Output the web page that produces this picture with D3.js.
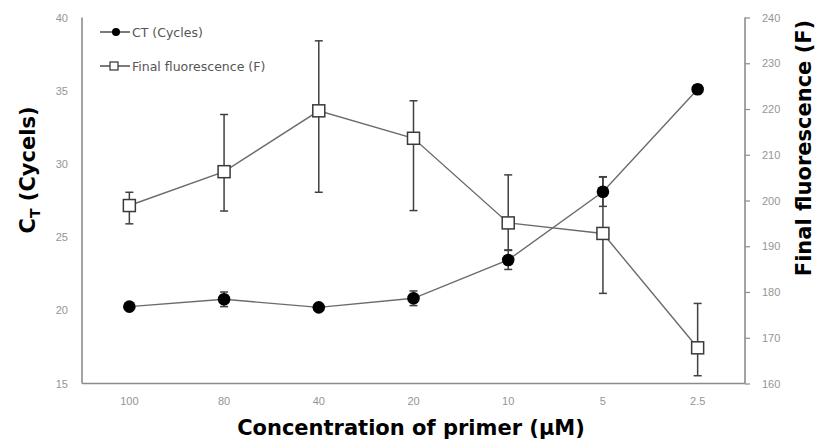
<!DOCTYPE html>
<html>
<head>
<meta charset="utf-8">
<script src="https://cdn.jsdelivr.net/npm/d3@7"></script>
<style>
  body { margin: 0; background: #fff; }
  svg { display: block; font-family: "Noto Sans", "Open Sans", sans-serif; }
</style>
</head>
<body>
<svg id="chart" width="819" height="442"></svg>
<script>
const categories = ["100", "80", "40", "20", "10", "5", "2.5"];
const ctValues   = [20.25, 20.75, 20.2, 20.82, 23.44, 28.1, 35.1];
const ctErr      = [0.2, 0.5, 0.2, 0.5, 0.65, 1.0, 0.3];
const fValues    = [198.9, 206.3, 219.6, 213.6, 195.1, 192.8, 167.8];
const fErrPlus   = [2.9, 12.5, 15.3, 8.2, 10.5, 12.4, 9.7];
const fErrMinus  = [4.0, 8.6, 17.8, 15.8, 5.9, 13.1, 6.1];
const leftTicks  = [15, 20, 25, 30, 35, 40];
const rightTicks = [160, 170, 180, 190, 200, 210, 220, 230, 240];

const svg = d3.select("#chart");
const L = 82, R = 745, T = 17.5, B = 383.5;

const x = d3.scaleBand().domain(categories).range([L, R]);
const yL = d3.scaleLinear().domain([15, 40]).range([B, T]);
const yR = d3.scaleLinear().domain([160, 240]).range([B, T]);
const cx = d => x(d) + x.bandwidth() / 2;

const axisColor = "#8c8c8c";
const labelColor = "#959595";
const lineColor = "#6b6b6b";
const errColor = "#404040";

// Left axis
const gL = svg.append("g").attr("transform", `translate(${L},0)`)
  .call(d3.axisLeft(yL).tickValues(leftTicks).tickSize(0).tickPadding(14));
// Right axis
const gR = svg.append("g").attr("transform", `translate(${R},0)`)
  .call(d3.axisRight(yR).tickValues(rightTicks).tickSize(5).tickPadding(12));
// Bottom axis
const gB = svg.append("g").attr("transform", `translate(0,${B})`)
  .call(d3.axisBottom(x).tickSize(0).tickPadding(14));

[gL, gR, gB].forEach(g => {
  g.select(".domain").attr("stroke", axisColor).attr("stroke-width", 1.6);
  g.selectAll(".tick line").attr("stroke", axisColor).attr("stroke-width", 1.2);
  g.selectAll(".tick text").attr("fill", labelColor).attr("font-size", 11);
});
gR.select(".domain").attr("d", `M0,${T}V${B}`);
gL.select(".domain").attr("d", `M0,${T}V${B}`);
gB.select(".domain").attr("d", `M${L},0H${R}`);

// Error bars F
const capW = 4;
const fErr = svg.append("g");
categories.forEach((c, i) => {
  const xx = cx(c);
  const y1 = yR(fValues[i] + fErrPlus[i]), y2 = yR(fValues[i] - fErrMinus[i]);
  fErr.append("line").attr("x1", xx).attr("x2", xx).attr("y1", y1).attr("y2", y2)
    .attr("stroke", errColor).attr("stroke-width", 1.5);
  [y1, y2].forEach(yy => fErr.append("line").attr("x1", xx - capW).attr("x2", xx + capW)
    .attr("y1", yy).attr("y2", yy).attr("stroke", errColor).attr("stroke-width", 1.5));
});
// Error bars CT
const cErr = svg.append("g");
categories.forEach((c, i) => {
  const xx = cx(c);
  const y1 = yL(ctValues[i] + ctErr[i]), y2 = yL(ctValues[i] - ctErr[i]);
  cErr.append("line").attr("x1", xx).attr("x2", xx).attr("y1", y1).attr("y2", y2)
    .attr("stroke", errColor).attr("stroke-width", 1.5);
  [y1, y2].forEach(yy => cErr.append("line").attr("x1", xx - capW).attr("x2", xx + capW)
    .attr("y1", yy).attr("y2", yy).attr("stroke", errColor).attr("stroke-width", 1.5));
});

// Lines
const lineF = d3.line().x((d, i) => cx(categories[i])).y(d => yR(d));
const lineC = d3.line().x((d, i) => cx(categories[i])).y(d => yL(d));
svg.append("path").attr("d", lineF(fValues)).attr("fill", "none")
  .attr("stroke", lineColor).attr("stroke-width", 1.4);
svg.append("path").attr("d", lineC(ctValues)).attr("fill", "none")
  .attr("stroke", lineColor).attr("stroke-width", 1.4);

// Markers
const sq = 12;
svg.append("g").selectAll("rect").data(fValues).join("rect")
  .attr("x", (d, i) => cx(categories[i]) - sq / 2)
  .attr("y", d => yR(d) - sq / 2)
  .attr("width", sq).attr("height", sq)
  .attr("fill", "#fff").attr("stroke", "#3a3a3a").attr("stroke-width", 1.5);
svg.append("g").selectAll("circle").data(ctValues).join("circle")
  .attr("cx", (d, i) => cx(categories[i]))
  .attr("cy", d => yL(d))
  .attr("r", 6.3).attr("fill", "#000");

// Legend
const lg = svg.append("g").attr("font-family", "'DejaVu Sans', sans-serif");
lg.append("line").attr("x1", 100).attr("x2", 130).attr("y1", 32).attr("y2", 32)
  .attr("stroke", "#333").attr("stroke-width", 1.3);
lg.append("circle").attr("cx", 116).attr("cy", 32).attr("r", 4).attr("fill", "#000");
lg.append("text").attr("x", 132).attr("y", 36.5).attr("font-size", 12.5)
  .attr("fill", "#555").text("CT (Cycles)");
lg.append("line").attr("x1", 100).attr("x2", 130).attr("y1", 66).attr("y2", 66)
  .attr("stroke", "#333").attr("stroke-width", 1.3);
lg.append("rect").attr("x", 110).attr("y", 62).attr("width", 8).attr("height", 8)
  .attr("fill", "#fff").attr("stroke", "#333").attr("stroke-width", 1.2);
lg.append("text").attr("x", 132).attr("y", 70.5).attr("font-size", 12.5)
  .attr("fill", "#555").text("Final fluorescence (F)");

// Axis titles
const titleFont = "'DejaVu Sans', sans-serif";
const lt = svg.append("text")
  .attr("transform", "translate(35,170) rotate(-90)")
  .attr("text-anchor", "middle").attr("font-size", 21).attr("font-weight", "bold")
  .attr("font-family", titleFont).attr("fill", "#000");
lt.append("tspan").text("C");
lt.append("tspan").attr("font-size", 14).attr("dy", 5).text("T");
lt.append("tspan").attr("dy", -5).text(" (Cycels)");

svg.append("text")
  .attr("transform", "translate(811,148) rotate(-90)")
  .attr("text-anchor", "middle").attr("font-size", 21).attr("font-weight", "bold")
  .attr("font-family", titleFont).attr("fill", "#000").text("Final fluorescence (F)");

svg.append("text")
  .attr("x", 411).attr("y", 435)
  .attr("text-anchor", "middle").attr("font-size", 21).attr("font-weight", "bold")
  .attr("font-family", titleFont).attr("fill", "#000").text("Concentration of primer (μM)");
</script>
</body>
</html>
